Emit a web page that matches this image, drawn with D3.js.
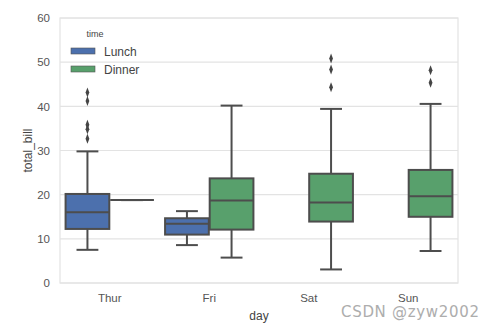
<!DOCTYPE html>
<html>
<head>
<meta charset="utf-8">
<script src="https://cdn.jsdelivr.net/npm/d3@7"></script>
<style>
  body { margin: 0; background: #fff; }
  svg { font-family: "Liberation Sans", Arial, sans-serif; }
</style>
</head>
<body>
<div id="chart"></div>
<script>
// total_bill by day, split by time (box summaries)
const days = ["Thur", "Fri", "Sat", "Sun"];
const times = ["Lunch", "Dinner"];
const yTicks = [0, 10, 20, 30, 40, 50, 60];

// [day, time, lowWhisker, q1, median, q3, highWhisker]
const boxStats = [
    ["Thur", "Lunch", 7.51, 12.24, 16.0, 20.16, 29.8],
    ["Thur", "Dinner", 18.78, 18.78, 18.78, 18.78, 18.78],
    ["Fri", "Lunch", 8.58, 10.96, 13.42, 14.66, 16.27],
    ["Fri", "Dinner", 5.75, 12.09, 18.66, 23.69, 40.17],
    ["Sat", "Dinner", 3.07, 13.91, 18.24, 24.74, 39.42],
    ["Sun", "Dinner", 7.25, 14.99, 19.63, 25.6, 40.55]
];

// points beyond the whiskers
const outliers = [
    ["Thur", "Lunch", 43.11], ["Thur", "Lunch", 41.19], ["Thur", "Lunch", 35.83],
    ["Thur", "Lunch", 34.83], ["Thur", "Lunch", 32.68],
    ["Sat", "Dinner", 50.81], ["Sat", "Dinner", 48.33], ["Sat", "Dinner", 44.30],
    ["Sun", "Dinner", 48.17], ["Sun", "Dinner", 45.35]
];

const colors = { Lunch: "#4c70ad", Dinner: "#58a06c" };
const edge = "#4d4d4d";

const width = 490, height = 330;
const margin = { top: 18, right: 32, bottom: 47, left: 60 };

const svg = d3.select("#chart").append("svg")
    .attr("width", width)
    .attr("height", height);

const x = d3.scaleBand()
    .domain(days)
    .range([margin.left, width - margin.right]);

const hue = d3.scaleBand()
    .domain(times)
    .range([0, x.bandwidth()])
    .paddingOuter(0.125)
    .paddingInner(0.02);

const y = d3.scaleLinear()
    .domain([0, 60])
    .range([height - margin.bottom, margin.top]);

// grid
svg.append("g")
    .selectAll("line")
    .data(yTicks)
    .join("line")
    .attr("x1", margin.left)
    .attr("x2", width - margin.right)
    .attr("y1", d => y(d))
    .attr("y2", d => y(d))
    .attr("stroke", "#e3e3e3")
    .attr("stroke-width", 1.2);

// frame
svg.append("rect")
    .attr("x", margin.left)
    .attr("y", margin.top)
    .attr("width", width - margin.left - margin.right)
    .attr("height", height - margin.top - margin.bottom)
    .attr("fill", "none")
    .attr("stroke", "#e3e3e3")
    .attr("stroke-width", 1.2);

// axes (text only, seaborn style)
const yAxis = svg.append("g")
    .attr("transform", `translate(${margin.left},0)`)
    .call(d3.axisLeft(y).tickValues(yTicks).tickSize(0).tickPadding(10));
yAxis.select(".domain").remove();
yAxis.selectAll("text").attr("fill", "#555").attr("font-size", 11.5);

const xAxis = svg.append("g")
    .attr("transform", `translate(0,${height - margin.bottom})`)
    .call(d3.axisBottom(x).tickSize(0).tickPadding(11));
xAxis.select(".domain").remove();
xAxis.selectAll("text").attr("fill", "#555").attr("font-size", 11.5);

svg.append("text")
    .attr("x", (margin.left + width - margin.right) / 2)
    .attr("y", 320)
    .attr("text-anchor", "middle")
    .attr("fill", "#444")
    .attr("font-size", 12)
    .text("day");

svg.append("text")
    .attr("transform", `translate(32,${(margin.top + height - margin.bottom) / 2}) rotate(-90)`)
    .attr("text-anchor", "middle")
    .attr("fill", "#444")
    .attr("font-size", 12)
    .text("total_bill");

// boxes
const boxes = svg.append("g")
    .selectAll("g")
    .data(boxStats)
    .join("g");

boxes.each(function (d) {
    const g = d3.select(this);
    const [day, time, lo, q1, med, q3, hi] = d;
    const x0 = x(day) + hue(time);
    const w = hue.bandwidth();
    const cx = x0 + w / 2;
    const capW = w / 2;

    g.append("line")
        .attr("x1", cx).attr("x2", cx)
        .attr("y1", y(hi)).attr("y2", y(q3))
        .attr("stroke", edge).attr("stroke-width", 2);
    g.append("line")
        .attr("x1", cx).attr("x2", cx)
        .attr("y1", y(q1)).attr("y2", y(lo))
        .attr("stroke", edge).attr("stroke-width", 2);
    g.selectAll(".cap")
        .data([lo, hi])
        .join("line")
        .attr("x1", cx - capW / 2).attr("x2", cx + capW / 2)
        .attr("y1", v => y(v)).attr("y2", v => y(v))
        .attr("stroke", edge).attr("stroke-width", 2);
    g.append("rect")
        .attr("x", x0)
        .attr("y", y(q3))
        .attr("width", w)
        .attr("height", y(q1) - y(q3))
        .attr("fill", colors[time])
        .attr("stroke", edge)
        .attr("stroke-width", 2);
    g.append("line")
        .attr("x1", x0).attr("x2", x0 + w)
        .attr("y1", y(med)).attr("y2", y(med))
        .attr("stroke", edge).attr("stroke-width", 2);
});

// outlier diamonds
svg.append("g")
    .selectAll("path")
    .data(outliers)
    .join("path")
    .attr("transform", d => `translate(${x(d[0]) + hue(d[1]) + hue.bandwidth() / 2},${y(d[2])}) scale(0.75,1.15)`)
    .attr("d", d3.symbol(d3.symbolDiamond, 22))
    .attr("fill", "#454545");

// legend
const legend = svg.append("g").attr("transform", "translate(71,0)");
legend.append("text")
    .attr("x", 24)
    .attr("y", 37)
    .attr("text-anchor", "middle")
    .attr("fill", "#444")
    .attr("font-size", 9)
    .text("time");
const items = legend.selectAll(".item")
    .data(times)
    .join("g")
    .attr("transform", (d, i) => `translate(0,${48 + i * 18})`);
items.append("rect")
    .attr("width", 24)
    .attr("height", 6)
    .attr("fill", d => colors[d])
    .attr("stroke", "#555")
    .attr("stroke-width", 0.6);
items.append("text")
    .attr("x", 33)
    .attr("y", 8)
    .attr("fill", "#444")
    .attr("font-size", 12)
    .text(d => d);

// watermark
svg.append("text")
    .attr("x", 341)
    .attr("y", 317)
    .attr("fill", "#adadad")
    .attr("font-family", "'DejaVu Sans', sans-serif")
    .attr("font-size", 15)
    .attr("textLength", 138)
    .text("CSDN @zyw2002");
</script>
</body>
</html>
